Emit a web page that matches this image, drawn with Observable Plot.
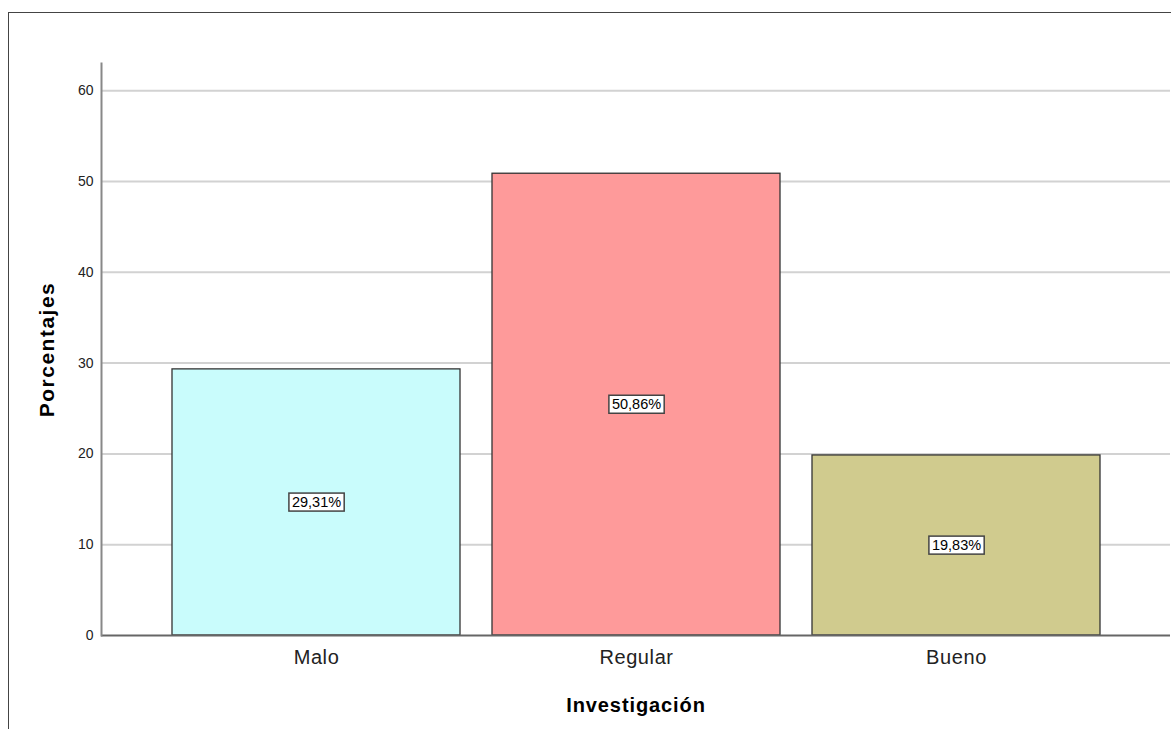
<!DOCTYPE html>
<html>
<head>
<meta charset="utf-8">
<script src="https://cdn.jsdelivr.net/npm/d3@7"></script>
<script src="https://cdn.jsdelivr.net/npm/@observablehq/plot@0.6"></script>
<style>
  html, body { margin: 0; padding: 0; background: #fff; }
  #wrap { position: relative; width: 1171px; height: 729px; overflow: hidden; }
  #border { position: absolute; left: 8px; top: 12px; width: 1200px; height: 800px;
            border-top: 1.5px solid #444; border-left: 1.5px solid #444; }
  #chart { position: absolute; left: 0; top: 0; }
  #chart svg { font-family: "Liberation Sans", Arial, sans-serif; }
  #chart [aria-label="x-axis label"] text {
    font-weight: bold; font-size: 20px; letter-spacing: 0.9px; fill: #000; }
  #chart [aria-label="y-axis label"] text {
    font-weight: bold; font-size: 21px; letter-spacing: 1.5px; fill: #000; }
  #chart [aria-label="x-axis tick label"] text { fill: #222; letter-spacing: 0.6px; }
  #chart [aria-label="y-axis tick label"] text { fill: #222; }
</style>
</head>
<body>
<div id="wrap"><div id="border"></div><div id="chart"></div></div>
<script>
const categories = ["Malo", "Regular", "Bueno"];
const percentages = [29.31, 50.86, 19.83];
const barColors = ["#c9fcfc", "#fe9a9a", "#d0cb8e"];
const yTicks = [0, 10, 20, 30, 40, 50, 60];

const data = categories.map((c, i) => ({category: c, value: percentages[i]}));
const fmt = v => v.toFixed(2).replace(".", ",") + "%";

const chart = Plot.plot({
  width: 1171,
  height: 729,
  marginLeft: 101,
  marginRight: 1,
  marginTop: 63,
  marginBottom: 94,
  style: {background: "transparent"},
  x: {domain: categories, paddingInner: 0.1, paddingOuter: 0.218},
  y: {domain: [0, 63]},
  color: {domain: categories, range: barColors},
  marks: [
    Plot.ruleY(yTicks.filter(t => t > 0), {stroke: "#d2d2d2", strokeWidth: 2, strokeOpacity: 1}),
    Plot.barY(data, {x: "category", y: "value", fill: "category", stroke: "#333", strokeWidth: 1.3}),
    Plot.ruleY([0], {stroke: "#666", strokeWidth: 2}),
    Plot.frame({anchor: "left", stroke: "#888", strokeWidth: 2}),
    Plot.axisY({ticks: yTicks, tickSize: 0, tickPadding: 8, fontSize: 14, label: "Porcentajes",
                labelAnchor: "center", labelOffset: 62, labelArrow: "none"}),
    Plot.axisX({tickSize: 0, tickPadding: 14, fontSize: 20, label: "Investigación",
                labelAnchor: "center", labelOffset: 76, labelArrow: "none"}),
    Plot.text(data, {x: "category", y: d => d.value / 2, text: d => fmt(d.value),
                     fontSize: 14.5, fill: "#000"})
  ]
});
document.getElementById("chart").appendChild(chart);

// Boxes behind the value labels, sized from the rendered text
chart.querySelectorAll("text").forEach(t => {
  if (!/%$/.test(t.textContent)) return;
  const b = t.getBBox();
  const r = document.createElementNS("http://www.w3.org/2000/svg", "rect");
  const tr = t.getAttribute("transform");
  if (tr) r.setAttribute("transform", tr);
  r.setAttribute("x", b.x - 3);
  r.setAttribute("y", b.y - 1);
  r.setAttribute("width", b.width + 6);
  r.setAttribute("height", b.height + 2);
  r.setAttribute("fill", "#fff");
  r.setAttribute("stroke", "#444");
  r.setAttribute("stroke-width", 1.5);
  t.parentNode.insertBefore(r, t);
});
</script>
</body>
</html>
